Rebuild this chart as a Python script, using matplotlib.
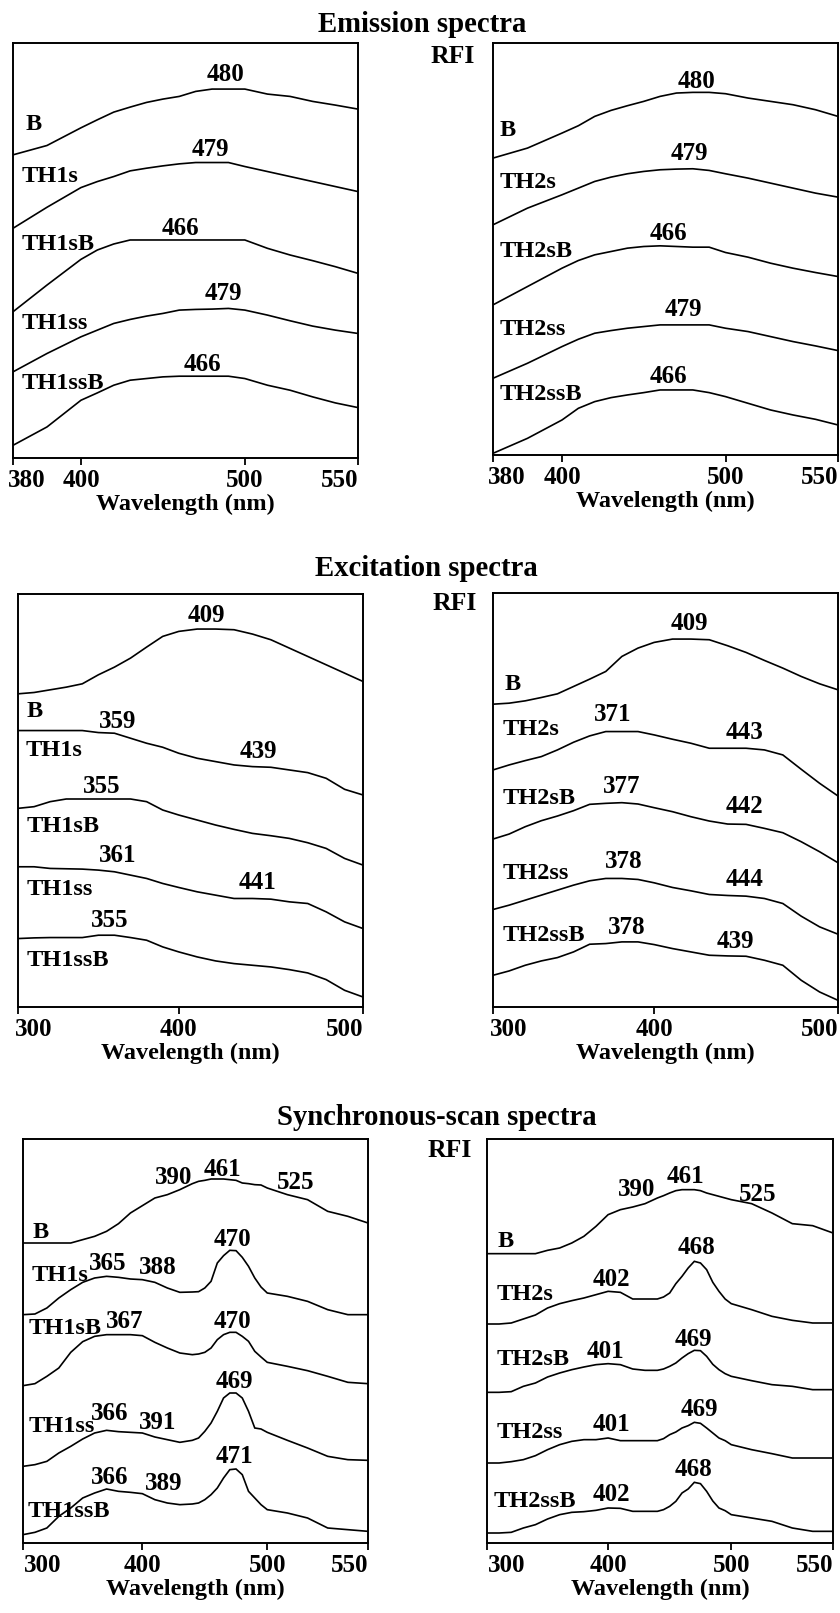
import numpy as np
import matplotlib
matplotlib.use("Agg")
import matplotlib.pyplot as plt
import matplotlib.transforms as mtransforms

plt.rcParams['font.family'] = ['Liberation Serif', 'DejaVu Serif']
plt.rcParams['font.weight'] = 'bold'

# ---------------- data (relative fluorescence intensity, stacked, arbitrary units) -------------
# Emission spectra
EM_NM = [380, 390, 400, 410, 420, 430, 440, 450, 460, 470, 480, 490, 500, 510, 520, 530, 540, 550]
EM1_B = [908, 936, 989, 1013, 1036, 1051, 1065, 1075, 1083, 1098, 1105, 1105, 1105, 1090, 1083, 1068, 1057, 1045]
EM1_TH1s = [688, 751, 810, 828, 843, 860, 868, 875, 881, 885, 885, 885, 873, 858, 843, 828, 813, 798]
EM1_TH1sB = [438, 518, 595, 623, 641, 653, 653, 653, 653, 653, 653, 653, 653, 628, 608, 591, 573, 553]
EM1_TH1ss = [258, 313, 363, 383, 403, 415, 425, 433, 443, 445, 446, 448, 443, 428, 411, 395, 383, 373]
EM1_TH1ssB = [38, 93, 173, 195, 218, 233, 238, 243, 245, 245, 245, 245, 238, 218, 203, 183, 165, 151]

EM2_B = [890, 920, 965, 987, 1015, 1033, 1047, 1060, 1075, 1085, 1087, 1087, 1083, 1070, 1060, 1050, 1035, 1015]
EM2_TH2s = [690, 740, 780, 800, 820, 833, 843, 850, 855, 857, 858, 853, 843, 830, 815, 800, 785, 773]
EM2_TH2sB = [450, 505, 560, 583, 600, 610, 620, 625, 627, 625, 623, 623, 607, 593, 575, 560, 547, 535]
EM2_TH2ss = [230, 275, 325, 347, 365, 373, 380, 385, 390, 390, 390, 390, 380, 370, 355, 340, 327, 313]
EM2_TH2ssB = [5, 50, 105, 140, 160, 172, 180, 187, 195, 195, 195, 187, 175, 155, 135, 120, 107, 90]

# Excitation spectra
EX_NM = [300, 310, 320, 330, 340, 350, 360, 370, 380, 390, 400, 410, 420, 430, 440, 450, 460, 470, 480, 490, 500]
EX1_B = [938, 942, 950, 958, 968, 995, 1018, 1045, 1078, 1110, 1125, 1132, 1132, 1130, 1117, 1100, 1075, 1050, 1025, 1000, 975]
EX1_TH1s = [828, 828, 828, 828, 828, 822, 820, 805, 790, 778, 760, 745, 735, 725, 720, 718, 710, 702, 685, 652, 635]
EX1_TH1sB = [595, 600, 615, 623, 623, 623, 623, 623, 615, 590, 575, 560, 545, 532, 520, 513, 505, 492, 475, 445, 425]
EX1_TH1ss = [420, 420, 415, 414, 413, 410, 405, 395, 385, 370, 358, 345, 335, 325, 325, 323, 315, 310, 285, 255, 235]
EX1_TH1ssB = [205, 207, 208, 208, 208, 215, 215, 208, 200, 180, 165, 150, 138, 130, 125, 120, 112, 102, 82, 50, 30]

EX2_B = [907, 910, 917, 927, 938, 960, 982, 1005, 1050, 1075, 1092, 1102, 1102, 1100, 1082, 1062, 1038, 1015, 990, 968, 950]
EX2_TH2s = [710, 725, 738, 750, 770, 793, 812, 825, 825, 825, 815, 802, 790, 775, 775, 775, 770, 755, 712, 670, 632]
EX2_TH2sB = [503, 518, 540, 558, 572, 588, 607, 610, 612, 608, 597, 585, 570, 557, 548, 547, 535, 522, 495, 465, 432]
EX2_TH2ss = [292, 305, 320, 335, 350, 365, 378, 385, 385, 382, 372, 358, 348, 337, 334, 332, 325, 310, 272, 240, 218]
EX2_TH2ssB = [95, 108, 125, 138, 148, 165, 188, 190, 195, 195, 187, 175, 165, 155, 153, 152, 140, 125, 80, 45, 20]

# Synchronous-scan spectra
SY_NM = [300, 310, 320, 330, 340, 350, 360, 370, 380, 390, 400, 410, 420, 430, 440,
         445, 450, 455, 460, 465, 470, 475, 480, 485, 490, 495, 500,
         510, 520, 530, 540, 550]
SY1_B = [900, 900, 900, 900, 900, 910, 920, 935, 958, 990, 1012, 1035, 1045, 1060, 1078,
         1085, 1088, 1092, 1092, 1092, 1090, 1088, 1080, 1078, 1075, 1074, 1065,
         1045, 1030, 995, 980, 960]
SY1_TH1s = [685, 687, 705, 735, 760, 782, 795, 800, 797, 792, 790, 782, 765, 752, 753,
            754, 765, 785, 840, 862, 878, 877, 857, 830, 795, 768, 750,
            740, 725, 700, 685, 685]
SY1_TH1sB = [472, 478, 500, 525, 572, 604, 620, 625, 625, 625, 622, 602, 585, 570, 565,
             567, 572, 585, 610, 625, 632, 632, 620, 605, 575, 558, 542,
             530, 517, 500, 482, 478]
SY1_TH1ss = [230, 235, 245, 270, 290, 312, 330, 338, 334, 332, 330, 318, 310, 302, 308,
             315, 335, 360, 395, 435, 450, 450, 435, 395, 345, 342, 332,
             308, 285, 260, 250, 248]
SY1_TH1ssB = [25, 32, 45, 80, 105, 135, 150, 162, 155, 152, 148, 130, 120, 115, 117,
              120, 130, 145, 165, 195, 220, 222, 205, 155, 135, 115, 100,
              90, 75, 45, 40, 35]

SY2_B = [868, 868, 868, 868, 868, 878, 885, 900, 920, 950, 985, 1000, 1008, 1018, 1035,
         1042, 1050, 1057, 1060, 1060, 1060, 1057, 1050, 1045, 1040, 1035, 1030,
         1018, 990, 958, 952, 930]
SY2_TH2s = [657, 657, 660, 672, 684, 705, 718, 727, 735, 745, 755, 752, 732, 732, 732,
            738, 750, 778, 800, 825, 845, 840, 820, 782, 755, 732, 718,
            700, 680, 668, 660, 660]
SY2_TH2sB = [452, 452, 454, 470, 480, 498, 510, 520, 528, 535, 538, 535, 522, 518, 518,
             522, 530, 540, 555, 568, 578, 577, 560, 536, 520, 508, 500,
             487, 475, 470, 460, 460]
SY2_TH2ss = [240, 240, 244, 250, 262, 280, 295, 305, 310, 310, 315, 307, 307, 307, 307,
             313, 325, 333, 345, 352, 362, 359, 345, 330, 315, 307, 295,
             280, 268, 255, 255, 255]
SY2_TH2ssB = [30, 30, 32, 45, 55, 72, 85, 92, 94, 98, 105, 104, 95, 95, 95,
              100, 110, 125, 150, 162, 182, 178, 155, 126, 105, 97, 85,
              75, 65, 45, 35, 35]

NAMES1 = ["B", "TH1s", "TH1sB", "TH1ss", "TH1ssB"]
NAMES2 = ["B", "TH2s", "TH2sB", "TH2ss", "TH2ssB"]

EM_TICKS = [380, 400, 500, 550]
EX_TICKS = [300, 400, 500]
SY_TICKS = [300, 400, 500, 550]

# peak annotations: (label, wavelength position, intensity position)
EM1_PEAKS = [("480", 488, 1148), ("479", 479, 923), ("466", 461, 688), ("479", 487, 493), ("466", 474, 281)]
EM2_PEAKS = [("480", 482, 1120), ("479", 478, 903), ("466", 465, 665), ("479", 474, 435), ("466", 465, 235)]
EX1_PEAKS = [("409", 415, 1172), ("359", 362, 855), ("439", 443, 765), ("355", 352, 660),
             ("361", 362, 455), ("441", 443, 372), ("355", 357, 260)]
EX2_PEAKS = [("409", 419, 1150), ("371", 374, 875), ("443", 449, 822), ("377", 380, 660), ("442", 449, 600),
             ("378", 381, 435), ("444", 449, 382), ("378", 383, 238), ("439", 444, 195)]
SY1_PEAKS = [("390", 425, 1097), ("461", 464, 1122), ("525", 514, 1082),
             ("365", 371, 840), ("388", 412, 828), ("470", 472, 912),
             ("367", 385, 665), ("470", 472, 665),
             ("366", 373, 390), ("391", 412, 362), ("469", 474, 485),
             ("366", 373, 195), ("389", 417, 178), ("471", 474, 260)]
SY2_PEAKS = [("390", 423, 1060), ("461", 463, 1100), ("525", 513, 1045),
             ("402", 403, 792), ("468", 472, 885),
             ("401", 398, 575), ("469", 469, 612),
             ("401", 403, 355), ("469", 474, 400),
             ("402", 403, 145), ("468", 469, 220)]

# ---------------- layout ----------------
W, H = 840, 1613
fig = plt.figure(figsize=(W / 100, H / 100), dpi=100)


def rect(l, t, r, b):
    return [l / W, 1 - b / H, (r - l) / W, (b - t) / H]


def piecewise(xp, fp):
    xp = np.asarray(xp, float)
    fp = np.asarray(fp, float)
    s0 = (fp[1] - fp[0]) / (xp[1] - xp[0])
    s1 = (fp[-1] - fp[-2]) / (xp[-1] - xp[-2])
    xe = np.r_[xp[0] - 1e4, xp, xp[-1] + 1e4]
    fe = np.r_[fp[0] - 1e4 * s0, fp, fp[-1] + 1e4 * s1]
    return lambda x: np.interp(np.asarray(x, float), xe, fe)


FS_TICK = 18
FS_NAME = 17.5
FS_PEAK = 18
FS_XLAB = 17.5


def panel(r, nm, curves, names, name_pos, peaks, ticks, tickfrac, ytop, first_dx=0):
    ax = fig.add_axes(rect(*r))
    fwd = piecewise(ticks, tickfrac)
    inv = piecewise(tickfrac, ticks)
    ax.set_xscale('function', functions=(fwd, inv))
    for c in curves:
        ax.plot(nm, c, color='black', lw=1.2, solid_joinstyle='miter')
    for name, (x, y) in zip(names, name_pos):
        ax.text(x, y, name, ha='left', va='center', fontsize=FS_NAME, fontweight='bold')
    for lab, x, y in peaks:
        ax.text(x, y, lab, ha='center', va='center', fontsize=FS_PEAK, fontweight='bold')
    ax.set_xlim(ticks[0], ticks[-1])
    ax.set_ylim(0, ytop)
    ax.set_xticks(ticks)
    ax.set_xticklabels([str(t) for t in ticks])
    ax.set_yticks([])
    ax.xaxis.set_minor_locator(matplotlib.ticker.NullLocator())
    ax.tick_params(axis='x', direction='out', length=5, width=1.3, pad=3,
                   labelsize=FS_TICK, top=False)
    labels = ax.get_xticklabels()
    for lbl in labels:
        lbl.set_fontweight('bold')
    labels[0].set_horizontalalignment('left')
    labels[0].set_transform(labels[0].get_transform() +
                            mtransforms.ScaledTranslation(first_dx / 100, 0, fig.dpi_scale_trans))
    labels[-1].set_horizontalalignment('right')
    for s in ax.spines.values():
        s.set_linewidth(1.4)
    ax.set_xlabel("Wavelength (nm)", fontsize=FS_XLAB, fontweight='bold', labelpad=1)
    return ax


# Emission
panel((13, 43, 358, 458), EM_NM, [EM1_B, EM1_TH1s, EM1_TH1sB, EM1_TH1ss, EM1_TH1ssB], NAMES1,
      [(383.8, 998), (382.5, 843), (382.5, 638), (382.5, 403), (382.5, 223)],
      EM1_PEAKS, EM_TICKS, [0, 0.197, 0.672, 1], 1243, first_dx=-5)
panel((493, 43, 838, 455), EM_NM, [EM2_B, EM2_TH2s, EM2_TH2sB, EM2_TH2ss, EM2_TH2ssB], NAMES2,
      [(382, 973), (382, 817), (382, 610), (382, 375), (382, 182)],
      EM2_PEAKS, EM_TICKS, [0, 0.2, 0.674, 1], 1235, first_dx=-5)
# Excitation
panel((18, 594, 363, 1007), EX_NM, [EX1_B, EX1_TH1s, EX1_TH1sB, EX1_TH1ss, EX1_TH1ssB], NAMES1,
      [(305.2, 885), (304.8, 768), (305.2, 542), (305.2, 352), (305.2, 138)],
      EX1_PEAKS, EX_TICKS, [0, 0.466, 1], 1237, first_dx=-3)
panel((493, 593, 838, 1007), EX_NM, [EX2_B, EX2_TH2s, EX2_TH2sB, EX2_TH2ss, EX2_TH2ssB], NAMES2,
      [(307.2, 965), (306.2, 832), (306.2, 625), (306.2, 400), (306.2, 215)],
      EX2_PEAKS, EX_TICKS, [0, 0.467, 1], 1240, first_dx=-3)
# Synchronous
panel((23, 1139, 368, 1543), SY_NM, [SY1_B, SY1_TH1s, SY1_TH1sB, SY1_TH1ss, SY1_TH1ssB], NAMES1,
      [(308.4, 932), (307, 802), (305, 642), (305, 350), (304, 95)],
      SY1_PEAKS, SY_TICKS, [0, 0.346, 0.708, 1], 1212, first_dx=1)
panel((487, 1139, 833, 1543), SY_NM, [SY2_B, SY2_TH2s, SY2_TH2sB, SY2_TH2ss, SY2_TH2ssB], NAMES2,
      [(309, 905), (307.7, 745), (307.7, 550), (307.7, 332), (305.5, 125)],
      SY2_PEAKS, SY_TICKS, [0, 0.35, 0.706, 1], 1212, first_dx=1)

# titles and RFI labels
for title, tx, ty, rx, ry in [("Emission spectra", 422, 32, 453, 63),
                              ("Excitation spectra", 426, 576, 455, 610),
                              ("Synchronous-scan spectra", 437, 1125, 450, 1157)]:
    fig.text(tx / W, 1 - ty / H, title, ha='center', va='baseline', fontsize=20.7, fontweight='bold')
    fig.text(rx / W, 1 - ry / H, "RFI", ha='center', va='baseline', fontsize=18.5, fontweight='bold')

fig.savefig("out.png", dpi=100)
